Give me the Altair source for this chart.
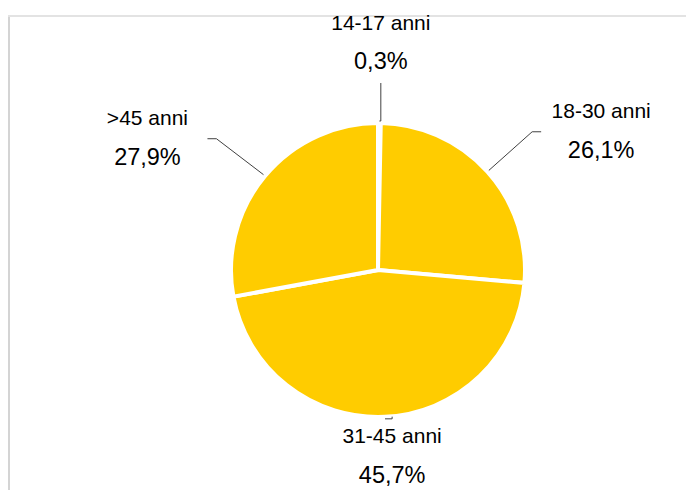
import math
import altair as alt
import pandas as pd

# ---- data ----
categories = ["14-17 anni", "18-30 anni", "31-45 anni", ">45 anni"]
shares = [0.3, 26.1, 45.7, 27.9]
share_labels = ["0,3%", "26,1%", "45,7%", "27,9%"]

df = pd.DataFrame({
    "cat": categories,
    "value": shares,
    "pct": share_labels,
    "idx": list(range(len(categories))),
})

# ---- layout constants ----
W, H = 678, 474
CX, CY = 370, 254
R = 147
YELLOW = "#FFCC00"
FONT = "Liberation Sans, Arial, Helvetica, sans-serif"

base = alt.Chart(df)

pie = base.mark_arc(outerRadius=R, stroke="white", strokeWidth=4, color=YELLOW).encode(
    theta=alt.Theta("value:Q", stack=True, scale=alt.Scale(range=[0, 2 * math.pi])),
    order=alt.Order("idx:Q"),
    x=alt.value(CX),
    y=alt.value(CY),
)

geo = (
    base.transform_window(cum="sum(value)", sort=[alt.SortField("idx")], frame=[None, 0])
    .transform_joinaggregate(total="sum(value)")
    .transform_calculate(a="(datum.cum - datum.value / 2) / datum.total * 2 * PI")
    .transform_calculate(s="sin(datum.a)")
    .transform_calculate(c="cos(datum.a)")
    .transform_calculate(side="abs(datum.s) > 0.3")
    .transform_calculate(sg="datum.s >= 0 ? 1 : -1")
    .transform_calculate(sgc="datum.c >= 0 ? 1 : -1")
    # label block centre (outside-end placement on a flattened ellipse)
    .transform_calculate(lx=f"{CX} + 300 * datum.s")
    .transform_calculate(ly=f"{CY - 20} - 207 * datum.sgc * pow(abs(datum.c), 1.39)")
    .transform_calculate(ny="datum.ly - 19.5")
    .transform_calculate(py="datum.ly + 19")
    # leader line: arc edge -> elbow -> label block edge
    .transform_calculate(x0=f"{CX} + {R + 2} * datum.s")
    .transform_calculate(y0=f"{CY} - {R + 2} * datum.c")
    .transform_calculate(x1="datum.side ? datum.lx - datum.sg * 69 : datum.lx")
    .transform_calculate(y1="datum.side ? datum.ly : datum.y0")
    .transform_calculate(x2="datum.side ? datum.lx - datum.sg * 60 : datum.lx")
    .transform_calculate(y2="datum.side ? datum.ly : datum.ly + datum.sgc * 40")
)

leader1 = geo.mark_rule(color="#404040", strokeWidth=1).encode(
    x=alt.X("x0:Q", scale=None, axis=None),
    y=alt.Y("y0:Q", scale=None, axis=None),
    x2="x1:Q",
    y2="y1:Q",
)
leader2 = geo.mark_rule(color="#404040", strokeWidth=1).encode(
    x=alt.X("x1:Q", scale=None, axis=None),
    y=alt.Y("y1:Q", scale=None, axis=None),
    x2="x2:Q",
    y2="y2:Q",
)

names = geo.mark_text(fontSize=21, font=FONT, color="black", baseline="middle", align="center").encode(
    x=alt.X("lx:Q", scale=None, axis=None),
    y=alt.Y("ny:Q", scale=None, axis=None),
    text="cat:N",
)
pcts = geo.mark_text(fontSize=23.5, font=FONT, color="black", baseline="middle", align="center").encode(
    x=alt.X("lx:Q", scale=None, axis=None),
    y=alt.Y("py:Q", scale=None, axis=None),
    text="pct:N",
)

frame_df = pd.DataFrame({"k": [0]})
border_left = alt.Chart(frame_df).mark_rule(color="#d4d4d4", strokeWidth=2).encode(
    x=alt.value(1), y=alt.value(0), y2=alt.value(H)
)
border_top = alt.Chart(frame_df).mark_rule(color="#e3e3e3", strokeWidth=2).encode(
    x=alt.value(0), x2=alt.value(W), y=alt.value(0)
)

chart = (
    alt.layer(border_left, border_top, pie, leader1, leader2, names, pcts)
    .properties(
        width=W,
        height=H,
        autosize=alt.AutoSizeParams(type="none"),
        padding={"top": 8, "left": 0, "right": 0, "bottom": 0},
        background="white",
    )
    .configure_view(stroke=None)
)

chart.save("out.html", embed_options={"renderer": "svg", "actions": False})
